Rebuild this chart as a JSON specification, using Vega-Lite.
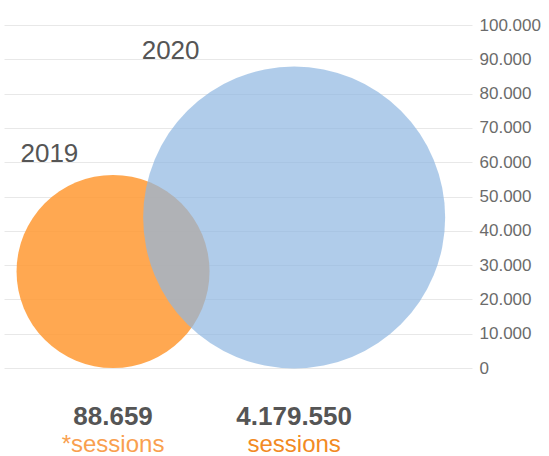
{
  "$schema": "https://vega.github.io/schema/vega-lite/v6.json",
  "width": 468,
  "height": 343,
  "autosize": "none",
  "padding": {"left": 4, "top": 25, "right": 77, "bottom": 88},
  "background": "white",
  "config": {
    "view": {"stroke": null},
    "font": "Liberation Sans",
    "locale": {"number": {"decimal": ",", "thousands": ".", "grouping": [3], "currency": ["", " €"]}},
    "axisY": {
      "domain": false,
      "ticks": false,
      "labelPadding": 7,
      "labelFontSize": 17,
      "labelColor": "#6b6b6b",
      "gridColor": "#e8e8e8",
      "gridWidth": 1
    }
  },
  "data": {
    "values": [
      {"year": "2019", "sessions": 88659, "unit": "*sessions", "x": 23.3, "y": 28130, "labelX": 9.7, "labelY": 60000},
      {"year": "2020", "sessions": 4179550, "unit": "sessions", "x": 62.0, "y": 43880, "labelX": 35.6, "labelY": 90000}
    ]
  },
  "layer": [
    {
      "mark": {"type": "circle", "stroke": null},
      "encoding": {
        "x": {"field": "x", "type": "quantitative", "scale": {"domain": [0, 100]}, "axis": null},
        "y": {
          "field": "y",
          "type": "quantitative",
          "scale": {"domain": [0, 100000]},
          "axis": {
            "orient": "right",
            "values": [0, 10000, 20000, 30000, 40000, 50000, 60000, 70000, 80000, 90000, 100000],
            "format": ",d",
            "title": null
          }
        },
        "size": {
          "field": "sessions",
          "type": "quantitative",
          "scale": {"type": "linear", "zero": false, "domain": [88659, 4179550], "range": [37249, 91204]},
          "legend": null
        },
        "color": {
          "field": "year",
          "type": "nominal",
          "scale": {"domain": ["2019", "2020"], "range": ["#ff9933", "#8eb6e1"]},
          "legend": null
        },
        "opacity": {
          "field": "year",
          "type": "nominal",
          "scale": {"domain": ["2019", "2020"], "range": [0.85, 0.7]},
          "legend": null
        }
      }
    },
    {
      "mark": {"type": "text", "fontSize": 26, "color": "#555555", "align": "center", "baseline": "alphabetic"},
      "encoding": {
        "x": {"field": "labelX", "type": "quantitative", "axis": null},
        "y": {
          "field": "labelY",
          "type": "quantitative",
          "axis": {
            "orient": "right",
            "values": [0, 10000, 20000, 30000, 40000, 50000, 60000, 70000, 80000, 90000, 100000],
            "format": ",d",
            "title": null
          }
        },
        "text": {"field": "year", "type": "nominal"}
      }
    },
    {
      "mark": {"type": "text", "fontSize": 26, "fontWeight": "bold", "color": "#555555", "align": "center", "baseline": "alphabetic", "dy": 57},
      "encoding": {
        "x": {"field": "x", "type": "quantitative", "axis": null},
        "y": {
          "datum": 0,
          "type": "quantitative",
          "axis": {
            "orient": "right",
            "values": [0, 10000, 20000, 30000, 40000, 50000, 60000, 70000, 80000, 90000, 100000],
            "format": ",d",
            "title": null
          }
        },
        "text": {"field": "sessions", "type": "quantitative", "format": ",d"}
      }
    },
    {
      "mark": {"type": "text", "fontSize": 24, "align": "center", "baseline": "alphabetic", "dy": 84},
      "encoding": {
        "x": {"field": "x", "type": "quantitative", "axis": null},
        "y": {
          "datum": 0,
          "type": "quantitative",
          "axis": {
            "orient": "right",
            "values": [0, 10000, 20000, 30000, 40000, 50000, 60000, 70000, 80000, 90000, 100000],
            "format": ",d",
            "title": null
          }
        },
        "text": {"field": "unit", "type": "nominal"},
        "color": {
          "field": "unit",
          "type": "nominal",
          "scale": {"domain": ["*sessions", "sessions"], "range": ["#f9a04f", "#f28a24"]},
          "legend": null
        }
      }
    }
  ],
  "resolve": {"scale": {"color": "independent"}}
}
